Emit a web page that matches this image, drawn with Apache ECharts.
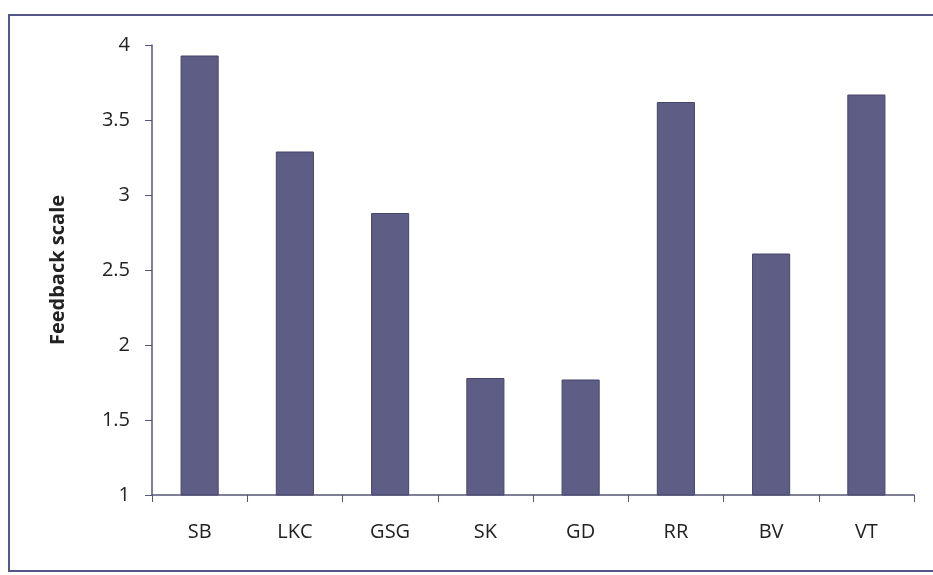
<!DOCTYPE html>
<html>
<head>
<meta charset="utf-8">
<script src="https://cdn.jsdelivr.net/npm/echarts@6/dist/echarts.min.js"></script>
<style>
html,body{margin:0;padding:0;background:#fff;}
#c{width:933px;height:575px;}
</style>
</head>
<body>
<div id="c"></div>
<script>
var categories = ['SB', 'LKC', 'GSG', 'SK', 'GD', 'RR', 'BV', 'VT'];
var feedback = [3.93, 3.29, 2.88, 1.78, 1.77, 3.62, 2.61, 3.67];
var yTicks = [1, 1.5, 2, 2.5, 3, 3.5, 4];

var chart = echarts.init(document.getElementById('c'));
chart.setOption({
  animation: false,
  backgroundColor: '#ffffff',
  textStyle: { fontFamily: 'Open Sans' },
  graphic: [{
    type: 'rect',
    shape: { x: 9, y: 15, width: 940, height: 556 },
    style: { fill: 'none', stroke: '#55558a', lineWidth: 2 },
    silent: true
  }],
  grid: { left: 152, right: 19, top: 45, bottom: 80 },
  xAxis: {
    type: 'category',
    data: categories,
    axisLine: { show: true, lineStyle: { color: '#555577', width: 1.5 } },
    axisTick: { show: true, alignWithLabel: false, length: 7, lineStyle: { color: '#555577' } },
    axisLabel: { color: '#222', fontSize: 20, margin: 27 }
  },
  yAxis: {
    type: 'value',
    min: yTicks[0],
    max: yTicks[yTicks.length - 1],
    interval: 0.5,
    name: 'Feedback scale',
    nameLocation: 'middle',
    nameGap: 84,
    nameTextStyle: { color: '#222', fontSize: 20, fontWeight: 'bold' },
    axisLine: { show: true, lineStyle: { color: '#555577', width: 1.5 } },
    axisTick: { show: true, length: 7, lineStyle: { color: '#555577' } },
    splitLine: { show: false },
    axisLabel: { color: '#222', fontSize: 20, margin: 22 }
  },
  series: [{
    type: 'bar',
    data: feedback,
    barWidth: '40%',
    itemStyle: { color: '#5e5d86', borderColor: '#46456a', borderWidth: 1 }
  }]
});
</script>
</body>
</html>
